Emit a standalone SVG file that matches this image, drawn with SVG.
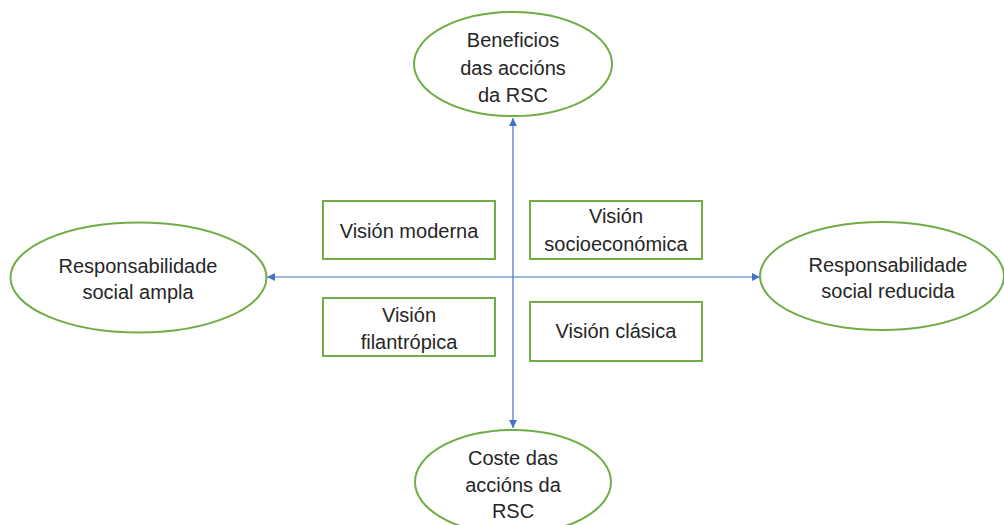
<svg xmlns="http://www.w3.org/2000/svg" width="1004" height="525" viewBox="0 0 1004 525">
<style>
.ell{fill:#fff;stroke:#70AD47;stroke-width:2}
.box{fill:#fff;stroke:#70AD47;stroke-width:2}
.t{font-family:"Liberation Sans",Arial,sans-serif;font-size:20px;fill:#262626;text-anchor:middle}
.ax{stroke:#4472C4;stroke-width:1.2;fill:none;marker-start:url(#ah);marker-end:url(#ah)}
</style>
<defs>
<marker id="ah" viewBox="0 0 10 10" refX="10" refY="5" markerWidth="8" markerHeight="8" markerUnits="userSpaceOnUse" orient="auto-start-reverse">
<path d="M0,0 L10,5 L0,10 z" fill="#4472C4"/>
</marker>
</defs>
<rect width="1004" height="525" fill="#fff"/>
<g id="connectors">
<line class="ax" x1="513" y1="428" x2="513" y2="118"/>
<line class="ax" x1="760" y1="277" x2="267" y2="277"/>
</g>
<g id="top">
<ellipse class="ell" cx="513" cy="64" rx="99" ry="52"/>
<text class="t" x="513" y="47">Beneficios</text>
<text class="t" x="513" y="75">das accións</text>
<text class="t" x="513" y="102">da RSC</text>
</g>
<g id="left">
<ellipse class="ell" cx="138.5" cy="277.5" rx="128" ry="55"/>
<text class="t" x="138" y="273">Responsabilidade</text>
<text class="t" x="138" y="299">social ampla</text>
</g>
<g id="right">
<ellipse class="ell" cx="882" cy="276" rx="122" ry="54"/>
<text class="t" x="888" y="272">Responsabilidade</text>
<text class="t" x="888" y="298">social reducida</text>
</g>
<g id="bottom">
<ellipse class="ell" cx="513" cy="482" rx="98" ry="52"/>
<text class="t" x="513" y="465">Coste das</text>
<text class="t" x="513" y="492">accións da</text>
<text class="t" x="513" y="518">RSC</text>
</g>
<g id="moderna">
<rect class="box" x="323" y="201" width="172" height="58"/>
<text class="t" x="409" y="238">Visión moderna</text>
</g>
<g id="socioeconomica">
<rect class="box" x="530" y="201" width="172" height="58"/>
<text class="t" x="616" y="223">Visión</text>
<text class="t" x="616" y="251">socioeconómica</text>
</g>
<g id="filantropica">
<rect class="box" x="323" y="298" width="172" height="58"/>
<text class="t" x="409" y="322">Visión</text>
<text class="t" x="409" y="349">filantrópica</text>
</g>
<g id="clasica">
<rect class="box" x="530" y="302" width="172" height="59"/>
<text class="t" x="616" y="338">Visión clásica</text>
</g>
</svg>
